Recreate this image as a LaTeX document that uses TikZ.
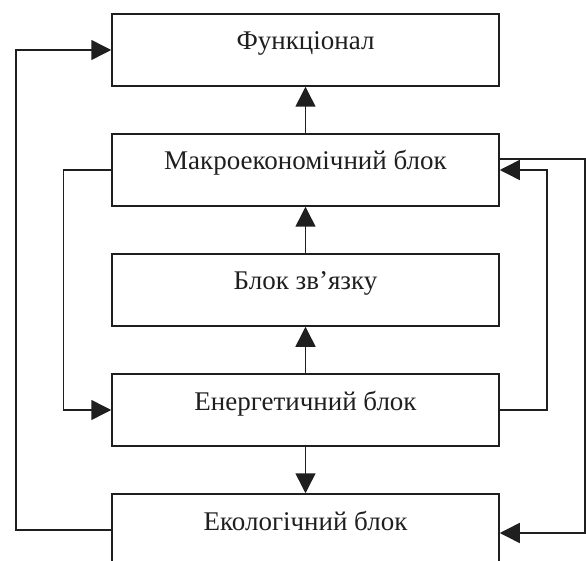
\documentclass[tikz,border=0pt]{standalone}
\usepackage{fontspec}
\setmainfont{Liberation Serif}
\usetikzlibrary{arrows.meta}
\tikzstyle{blok}=[rectangle,draw=black!88,text=black!88,line width=1.5pt,minimum width=387pt,minimum height=72pt,inner sep=0pt,text height=10pt,text depth=10pt,font=\fontsize{27}{31}\selectfont]
\tikzstyle{lin}=[-{Triangle[length=20pt,width=20pt]},line width=1.5pt,draw=black!88]

\begin{document}
\begin{tikzpicture}[x=1pt,y=-1pt]
\clip (0,0) rectangle (586,561);
\node[blok] (fun) at (305.5,50)  {Функціонал};
\node[blok] (mak) at (305.5,170) {Макроекономічний блок};
\node[blok] (zv)  at (305.5,290) {Блок зв’язку};
\node[blok] (en)  at (305.5,410) {Енергетичний блок};
\node[blok] (ek)  at (305.5,530) {Екологічний блок};
\draw[lin] (mak) -- (fun);
\draw[lin] (zv) -- (mak);
\draw[lin] (en) -- (zv);
\draw[lin] (en) -- (ek);
\draw[lin] (ek.west) -- ++(-95.5,0) |- (fun.west);
\draw[lin] (mak.west) -- ++(-48,0) |- (en.west);
\draw[lin] (en.east) -- ++(47,0) |- (mak.east);
\draw[lin] ([yshift=11pt]mak.east) -- ++(85,0) |- ([yshift=-3pt]ek.east);
\end{tikzpicture}
\end{document}
